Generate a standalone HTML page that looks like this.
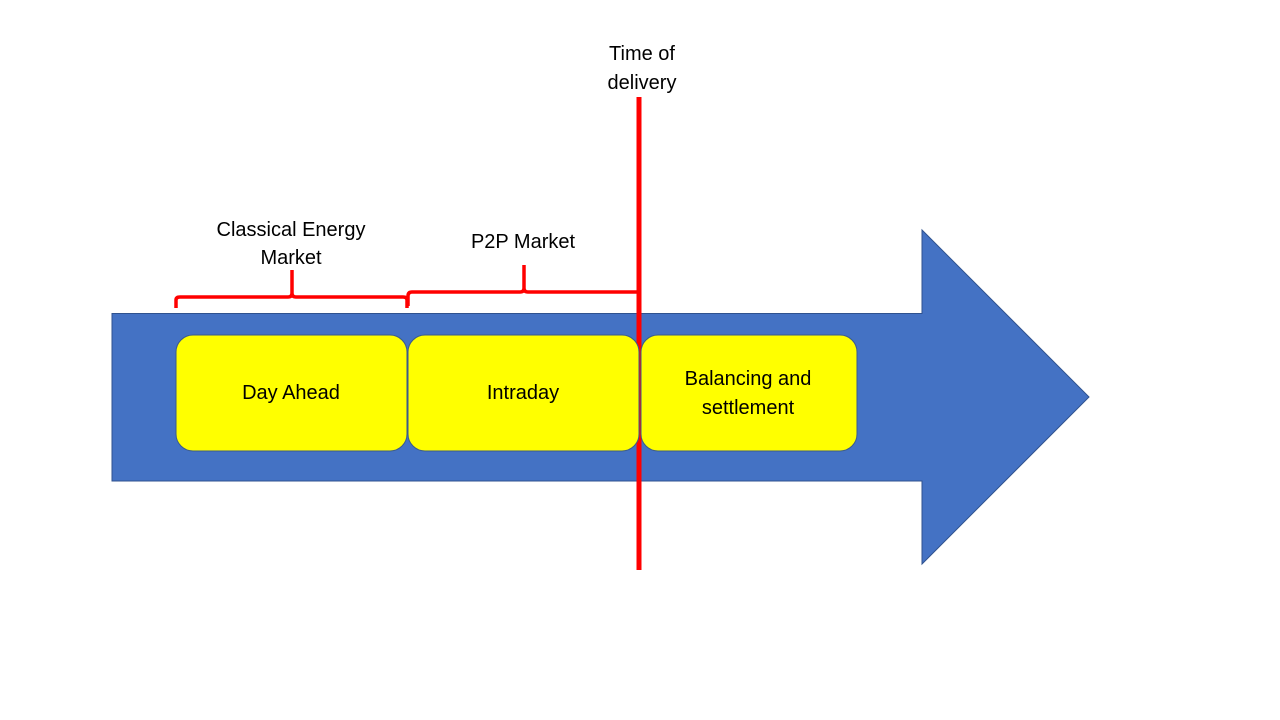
<!DOCTYPE html>
<html><head><meta charset="utf-8"><style>
html,body{margin:0;padding:0;background:#fff;}
svg{display:block;}
text{font-family:"Liberation Sans",sans-serif;font-size:20px;fill:#000;}
</style></head><body>
<svg width="1280" height="720" viewBox="0 0 1280 720">
<polygon points="112,313.5 922,313.5 922,230 1089,397 922,564 922,481 112,481" fill="#4472C4" stroke="#2F528F" stroke-width="1"/>
<line x1="639" y1="97" x2="639" y2="570" stroke="#FF0000" stroke-width="5"/>
<rect x="176" y="335" width="231" height="116" rx="17" fill="#FFFF00" stroke="#3A5A8C" stroke-width="1"/>
<rect x="408" y="335" width="231" height="116" rx="17" fill="#FFFF00" stroke="#3A5A8C" stroke-width="1"/>
<rect x="641" y="335" width="216" height="116" rx="17" fill="#FFFF00" stroke="#3A5A8C" stroke-width="1"/>
<g fill="none" stroke="#FF0000" stroke-width="3.5">
<path d="M176,308 V300 Q176,297 180,297 H288 Q292,297 292,293 V270 M292,293 Q292,297 296,297 H403 Q407,297 407,300 V308"/>
<path d="M408,306 V296 Q408,292 412,292 H520 Q524,292 524,288 V265 M524,288 Q524,292 528,292 H639"/>
</g>
<text x="291" y="399" text-anchor="middle">Day Ahead</text>
<text x="523" y="399" text-anchor="middle">Intraday</text>
<text x="748" y="385" text-anchor="middle">Balancing and</text>
<text x="748" y="414" text-anchor="middle">settlement</text>
<text x="291" y="236" text-anchor="middle">Classical Energy</text>
<text x="291" y="264" text-anchor="middle">Market</text>
<text x="523" y="248" text-anchor="middle">P2P Market</text>
<text x="642" y="60" text-anchor="middle">Time of</text>
<text x="642" y="89" text-anchor="middle">delivery</text>
</svg>
</body></html>
